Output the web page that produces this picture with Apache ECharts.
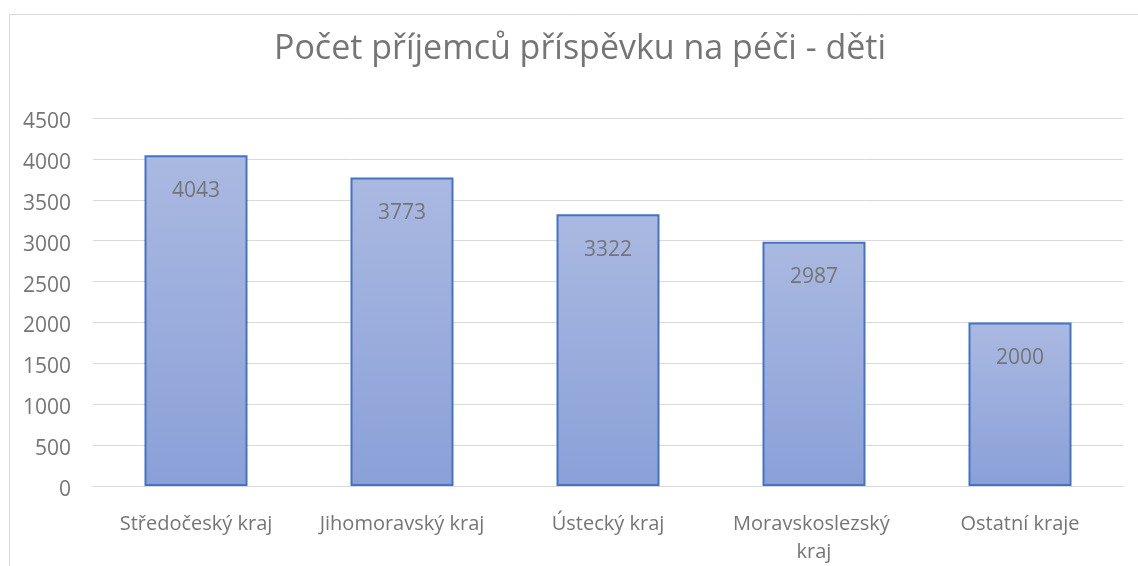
<!DOCTYPE html>
<html>
<head>
<meta charset="utf-8">
<script src="https://cdn.jsdelivr.net/npm/echarts@6/dist/echarts.min.js"></script>
<style>html,body{margin:0;padding:0;background:#fff}#c{width:1138px;height:566px}</style>
</head>
<body>
<div id="c"></div>
<script>
const titleText = 'Počet příjemců příspěvku na péči - děti';
const categories = ['Středočeský kraj', 'Jihomoravský kraj', 'Ústecký kraj', 'Moravskoslezský kraj', 'Ostatní kraje'];
const values = [4043, 3773, 3322, 2987, 2000];

const chart = echarts.init(document.getElementById('c'));
const FONT = '"Open Sans", "Noto Sans", sans-serif';
chart.setOption({
  animation: false,
  textStyle: { fontFamily: FONT },
  title: {
    text: titleText,
    left: 575, textAlign: 'center', top: 27,
    textStyle: { fontFamily: FONT, fontSize: 34, fontWeight: 'normal', color: '#757575' }
  },
  graphic: [{
    type: 'rect', shape: { x: 9.5, y: 14.5, width: 1200, height: 600 },
    style: { fill: 'none', stroke: '#d9d9d9', lineWidth: 1 }, silent: true
  }],
  grid: { left: 93, right: 15, top: 118, bottom: 79, containLabel: false },
  xAxis: {
    type: 'category', data: categories,
    axisLine: { show: true, lineStyle: { color: '#d9d9d9', width: 1 } },
    axisTick: { show: false },
    axisLabel: { color: '#757575', fontSize: 20, margin: 24, width: 205, overflow: 'break', lineHeight: 28, interval: 0 }
  },
  yAxis: {
    type: 'value', min: 0, max: 4500, interval: 500,
    axisLine: { show: false }, axisTick: { show: false },
    splitLine: { lineStyle: { color: '#d9d9d9', width: 1 } },
    axisLabel: {
      color: '#757575', fontSize: 21, margin: 22,
      formatter: v => '{a|' + v + '}',
      rich: { a: { fontSize: 21, color: '#757575', padding: [8, 0, 0, 0] } }
    }
  },
  series: [{
    type: 'bar', data: values, barWidth: '50%',
    itemStyle: {
      color: new echarts.graphic.LinearGradient(0, 0, 0, 1, [
        { offset: 0, color: '#aab9e1' }, { offset: 1, color: '#8aa0d8' }
      ]),
      borderColor: '#4472c4', borderWidth: 2
    },
    label: { show: true, position: 'insideTop', distance: 25, color: '#757575', fontSize: 21 }
  }]
});
</script>
</body>
</html>
